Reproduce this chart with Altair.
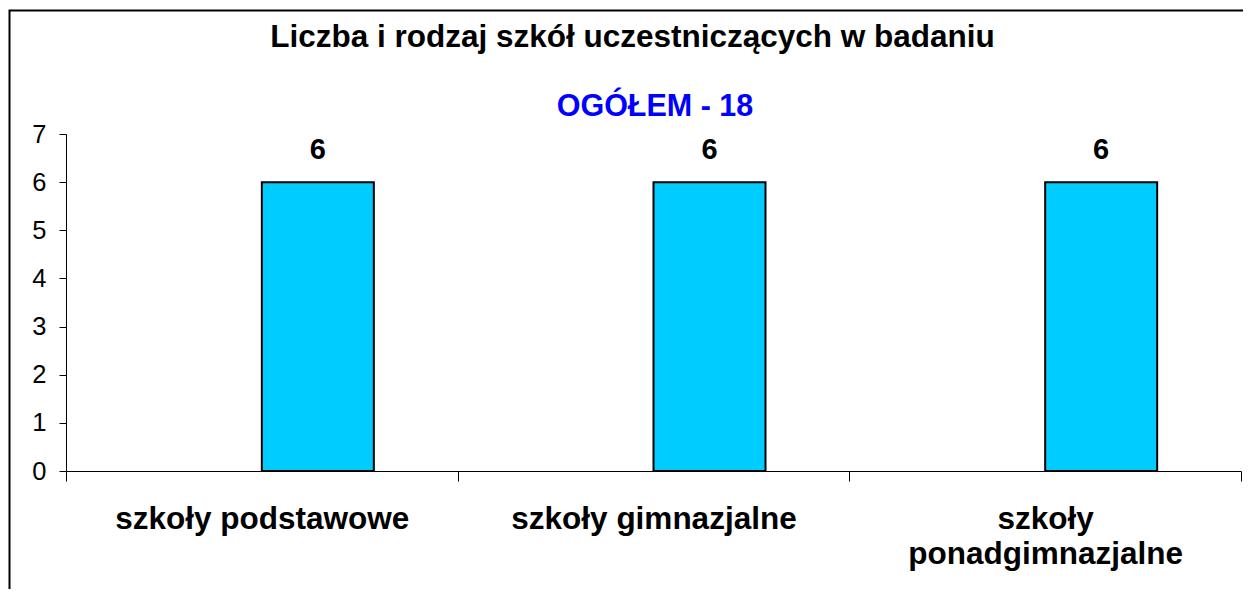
import altair as alt
import pandas as pd

categories = ["szkoły podstawowe", "szkoły gimnazjalne", "szkoły ponadgimnazjalne"]
counts = [6, 6, 6]
y_ticks = [0, 1, 2, 3, 4, 5, 6, 7]
title_text = ["Liczba i rodzaj szkół uczestniczących w badaniu"]
subtitle_text = ["OGÓŁEM - 18"]

W, H = 1175, 337
FONT = "Liberation Sans"

df = pd.DataFrame({"rodzaj": categories, "liczba": counts})

label_expr = (
    "datum.label == 'szkoły ponadgimnazjalne' ? ['szkoły', 'ponadgimnazjalne'] : datum.label"
)

x = alt.X(
    "rodzaj:N",
    sort=categories,
    scale=alt.Scale(paddingInner=0, paddingOuter=0),
    axis=alt.Axis(
        title=None, labelAngle=0, labelFontSize=31.5, labelFontWeight="bold",
        labelColor="black", labelLimit=0, labelPadding=22, labelLineHeight=35,
        tickBand="extent", tickSize=10, labelExpr=label_expr, labelBaseline="top",
    ),
)
y = alt.Y(
    "liczba:Q",
    scale=alt.Scale(domain=[0, 7], nice=False),
    axis=alt.Axis(
        title=None, values=y_ticks, grid=False, labelFontSize=25.5, tickSize=7,
        labelPadding=13, labelColor="black", format="d",
    ),
)

bars = alt.Chart(df).mark_bar(
    width=112, xOffset=56, color="#00CCFF", stroke="black", strokeWidth=2
).encode(x=x, y=y)

values = alt.Chart(df).mark_text(
    xOffset=56, dy=-23, baseline="alphabetic", align="center",
    fontSize=29, fontWeight="bold", font=FONT, color="black"
).encode(x=x, y=y, text="liczba:Q")

title = alt.Chart(pd.DataFrame({"t": title_text})).mark_text(
    fontSize=31.5, fontWeight="bold", font=FONT, color="black",
    baseline="alphabetic", align="center"
).encode(x=alt.value(566.5), y=alt.value(-87), text="t:N")

subtitle = alt.Chart(pd.DataFrame({"t": subtitle_text})).mark_text(
    fontSize=30.5, fontWeight="bold", font=FONT, color="#0000FF",
    baseline="alphabetic", align="center"
).encode(x=alt.value(589), y=alt.value(-18), text="t:N")

frame = alt.Chart(pd.DataFrame({"k": [0]})).mark_rect(
    fill="transparent", stroke="black", strokeWidth=2, clip=False
).encode(
    x=alt.value(-56.5), x2=alt.value(1250), y=alt.value(-123.5), y2=alt.value(700)
)

chart = alt.layer(frame, bars, values, title, subtitle).properties(
    width=W,
    height=H,
    autosize=alt.AutoSizeParams(type="none"),
    padding={"left": 58, "top": 126, "right": 2, "bottom": 118},
    background="white",
).configure_axis(
    labelFont=FONT, domainColor="black", domainWidth=1, tickColor="black", tickWidth=1
).configure_view(strokeWidth=0)

chart.save("out.html", embed_options={"renderer": "svg", "actions": False})
